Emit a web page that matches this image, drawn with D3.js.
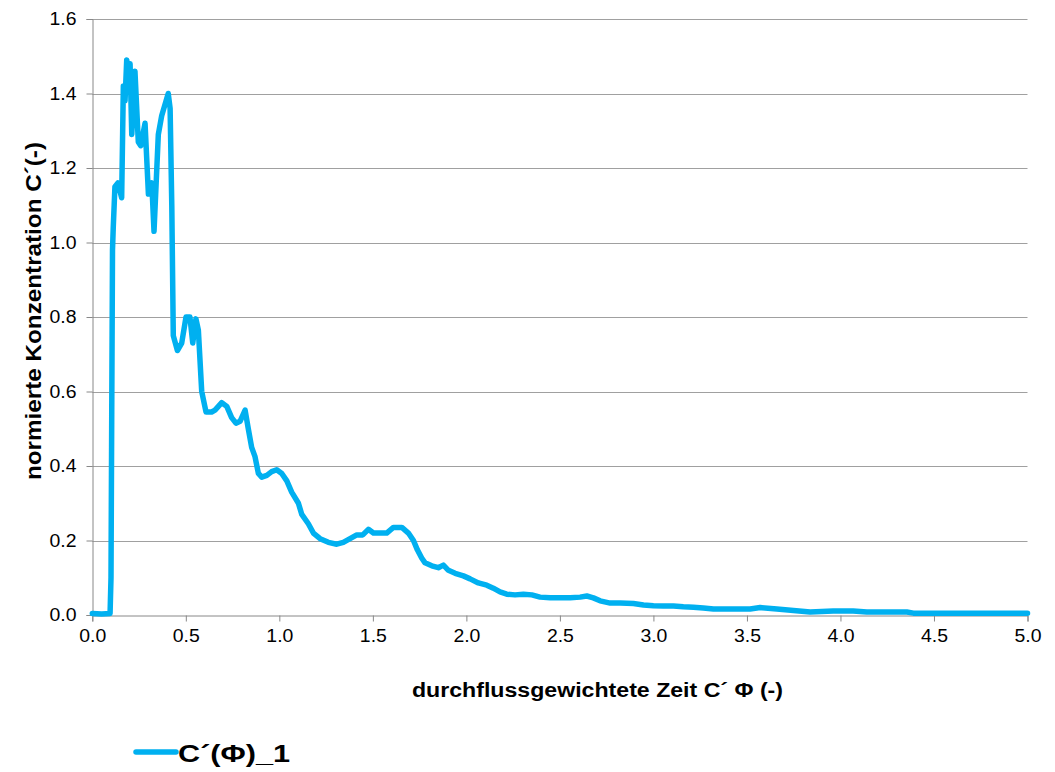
<!DOCTYPE html>
<html>
<head>
<meta charset="utf-8">
<script src="https://cdn.jsdelivr.net/npm/d3@7"></script>
<style>
  body { margin: 0; background: #fff; }
  svg { display: block; font-family: "Liberation Sans", Arial, sans-serif; }
</style>
</head>
<body>
<svg id="chart" width="1055" height="772"></svg>
<script>
// ---- data ----
const seriesName = "C´(Φ)_1";
const phi = [
  0.0, 0.05, 0.095, 0.100, 0.104, 0.108, 0.112, 0.121, 0.137, 0.157, 0.166, 0.175, 0.184, 0.195, 0.202, 0.211,
  0.228, 0.246, 0.259, 0.282, 0.300, 0.318, 0.330, 0.353, 0.371, 0.406, 0.416, 0.425, 0.433, 0.455, 0.478,
  0.501, 0.522, 0.537, 0.554, 0.567, 0.585, 0.608, 0.638, 0.656, 0.692, 0.719, 0.745, 0.768, 0.790, 0.817,
  0.834, 0.852, 0.870, 0.888, 0.906, 0.933, 0.959, 0.986, 1.013, 1.040, 1.066, 1.102, 1.120, 1.155, 1.182,
  1.218, 1.262, 1.307, 1.342, 1.378, 1.414, 1.446, 1.476, 1.503, 1.538, 1.574, 1.610, 1.655, 1.690, 1.717,
  1.738, 1.761, 1.779, 1.815, 1.850, 1.877, 1.904, 1.940, 1.984, 2.020, 2.064, 2.109, 2.144, 2.180, 2.216,
  2.260, 2.305, 2.350, 2.394, 2.448, 2.501, 2.555, 2.608, 2.644, 2.679, 2.715, 2.769, 2.822, 2.893, 2.947,
  3.000, 3.053, 3.107, 3.160, 3.214, 3.267, 3.321, 3.392, 3.517, 3.571, 3.660, 3.749, 3.838, 3.961, 4.068,
  4.141, 4.355, 4.390, 4.676, 5.000
];
const conc = [
  0.004, 0.003, 0.004, 0.10, 0.55, 0.98, 1.04, 1.15, 1.16, 1.12, 1.42, 1.38, 1.49, 1.45, 1.48, 1.29,
  1.46, 1.27, 1.26, 1.32, 1.13, 1.16, 1.03, 1.29, 1.34, 1.40, 1.36, 1.10, 0.75, 0.71, 0.73,
  0.80, 0.80, 0.73, 0.795, 0.765, 0.60, 0.545, 0.545, 0.55, 0.57, 0.56, 0.53, 0.515, 0.52, 0.55,
  0.50, 0.45, 0.425, 0.38, 0.37, 0.375, 0.385, 0.39, 0.38, 0.36, 0.33, 0.30, 0.27, 0.245, 0.22,
  0.205, 0.195, 0.19, 0.195, 0.205, 0.215, 0.215, 0.23, 0.22, 0.22, 0.22, 0.235, 0.235, 0.22, 0.20,
  0.175, 0.153, 0.14, 0.132, 0.127, 0.134, 0.12, 0.112, 0.105, 0.097, 0.086, 0.08, 0.072, 0.062, 0.056,
  0.054, 0.056, 0.054, 0.048, 0.046, 0.046, 0.046, 0.048, 0.051, 0.046, 0.038, 0.032, 0.032, 0.031, 0.027,
  0.025, 0.024, 0.024, 0.022, 0.021, 0.019, 0.016, 0.016, 0.016, 0.02, 0.016, 0.012, 0.008, 0.011, 0.011,
  0.008, 0.008, 0.005, 0.005, 0.005
];
const xTicks = [0.0, 0.5, 1.0, 1.5, 2.0, 2.5, 3.0, 3.5, 4.0, 4.5, 5.0];
const yTicks = [0.0, 0.2, 0.4, 0.6, 0.8, 1.0, 1.2, 1.4, 1.6];
const xTitle = "durchflussgewichtete Zeit C´ Φ (-)";
const yTitle = "normierte Konzentration C´(-)";

// ---- layout ----
const svg = d3.select("#chart");
const plotLeft = 92.3, plotRight = 1027.5, plotTop = 19, plotBottom = 615;
const x = d3.scaleLinear().domain([0, 5]).range([plotLeft, plotRight]);
const y = d3.scaleLinear().domain([0, 1.6]).range([plotBottom, plotTop]);
const lineColor = "#00b0f0";
const gridColor = "#a0a0a0";
const axisColor = "#888888";

// gridlines
svg.append("g")
  .selectAll("line")
  .data(yTicks.filter(d => d > 0))
  .join("line")
  .attr("x1", plotLeft).attr("x2", plotRight)
  .attr("y1", d => Math.round(y(d)) + 0.5).attr("y2", d => Math.round(y(d)) + 0.5)
  .attr("stroke", gridColor).attr("stroke-width", 1);

// y axis
const yAxis = svg.append("g")
  .attr("transform", `translate(${Math.round(plotLeft) + 0.5},0)`)
  .call(d3.axisLeft(y).tickValues(yTicks).tickFormat(d3.format(".1f")).tickSize(6).tickPadding(10));
yAxis.select(".domain").attr("stroke", axisColor);
yAxis.selectAll(".tick line").attr("stroke", axisColor);
yAxis.selectAll("text").attr("font-size", 18).attr("fill", "#000")
  .attr("font-family", "Liberation Sans, Arial, sans-serif")
  .attr("textLength", 27).attr("lengthAdjust", "spacingAndGlyphs");

// x axis
const xAxis = svg.append("g")
  .attr("transform", `translate(0,${Math.round(plotBottom) + 0.5})`)
  .call(d3.axisBottom(x).tickValues(xTicks).tickFormat(d3.format(".1f")).tickSize(6).tickPadding(8));
xAxis.select(".domain").attr("stroke", axisColor);
xAxis.selectAll(".tick line").attr("stroke", axisColor);
xAxis.selectAll("text").attr("font-size", 18).attr("fill", "#000")
  .attr("font-family", "Liberation Sans, Arial, sans-serif")
  .attr("textLength", 27).attr("lengthAdjust", "spacingAndGlyphs");

// data line
const pts = phi.map((p, i) => [p, conc[i]]);
svg.append("path")
  .datum(pts)
  .attr("fill", "none")
  .attr("stroke", lineColor)
  .attr("stroke-width", 5.5)
  .attr("stroke-linejoin", "round")
  .attr("stroke-linecap", "round")
  .attr("d", d3.line().x(d => x(d[0])).y(d => y(d[1])));

// axis titles
svg.append("text")
  .attr("x", 412).attr("y", 697)
  .attr("font-size", 20).attr("font-weight", "bold")
  .attr("textLength", 371).attr("lengthAdjust", "spacingAndGlyphs")
  .text(xTitle);

svg.append("text")
  .attr("transform", "translate(41,480) rotate(-90)")
  .attr("font-size", 22).attr("font-weight", "bold")
  .attr("textLength", 338).attr("lengthAdjust", "spacingAndGlyphs")
  .text(yTitle);

// legend
svg.append("line")
  .attr("x1", 136).attr("x2", 176)
  .attr("y1", 752).attr("y2", 752)
  .attr("stroke", lineColor).attr("stroke-width", 5.5)
  .attr("stroke-linecap", "round");
svg.append("text")
  .attr("x", 178).attr("y", 762)
  .attr("font-size", 24).attr("font-weight", "bold")
  .attr("textLength", 112).attr("lengthAdjust", "spacingAndGlyphs")
  .text(seriesName);
</script>
</body>
</html>
